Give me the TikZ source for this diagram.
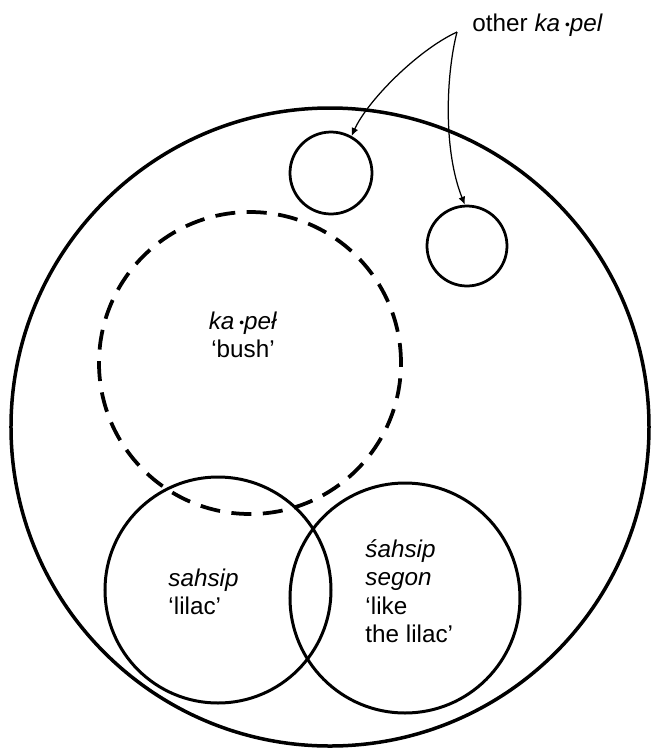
\documentclass[tikz,border=0pt]{standalone}
\usepackage{fontspec}
\setmainfont{Liberation Sans}
\usetikzlibrary{arrows.meta}
\newcommand{\lendot}{\hspace{2pt}\raisebox{0.9pt}{\fontsize{5.5}{5.5}\selectfont\upshape•}}

\begin{document}
\begin{tikzpicture}[x=0.4pt,y=-0.4pt,>={Latex[length=3.2pt,width=2.8pt]},
  ring/.style={draw,circle,inner sep=0pt,line width=1.1pt},
  lab/.style={align=left,inner sep=0pt,font=\fontsize{9.7}{11.4}\selectfont}]
  \useasboundingbox (0,0) rectangle (653,749);
  \node[ring,line width=1.4pt,minimum size=255.2pt] (world) at (330,427) {};
  \node[ring,minimum size=32.8pt] (othA) at (331,173) {};
  \node[ring,minimum size=32pt] (othB) at (467,246) {};
  \node[ring,dash pattern=on 8pt off 4.6pt,line width=1.5pt,minimum size=120.8pt] (kapel) at (250,363) {};
  \node[ring,line width=1.2pt,minimum size=90.4pt] (lilac) at (218,590) {};
  \node[ring,line width=1.2pt,minimum size=92pt] (likelilac) at (405,598) {};
  \node[lab,align=center] (kapellab) at (243,335) {\textit{ka\lendot peł}\\‘bush’};
  \node[lab,anchor=west] (lilaclab) at (168,592) {\textit{sahsip}\\‘lilac’};
  \node[lab,anchor=west] (likelab) at (365,591) {\textit{śahsip}\\\textit{segon}\\‘like\\the lilac’};
  \node[lab,anchor=west] (other) at (472,25) {other \textit{ka\lendot pel}};
  \coordinate (apex) at (457,32);
  \draw[->,line width=0.5pt] (apex) .. controls (418,50) and (368,100) .. (othA.61);
  \draw[->,line width=0.5pt] (apex) .. controls (446,75) and (443,150) .. (othB.93);
\end{tikzpicture}
\end{document}
